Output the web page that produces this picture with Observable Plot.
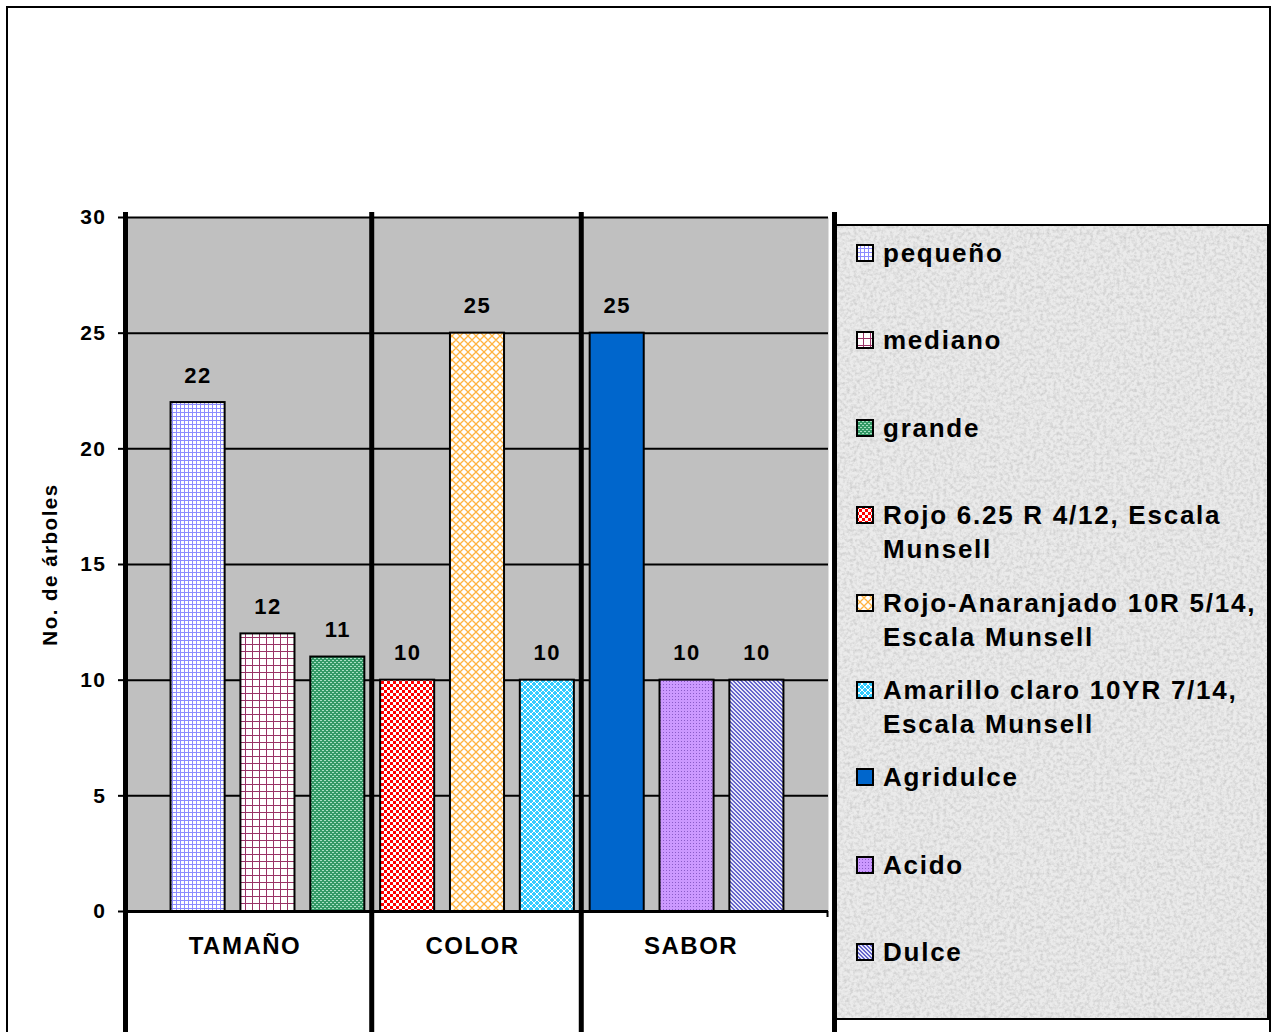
<!DOCTYPE html>
<html>
<head>
<meta charset="utf-8">
<script src="https://cdn.jsdelivr.net/npm/d3@7"></script>
<script src="https://cdn.jsdelivr.net/npm/@observablehq/plot@0.6"></script>
<style>
  html, body { margin: 0; padding: 0; background: #fff; }
  #page { position: relative; width: 1272px; height: 1032px; overflow: hidden; background: #fff;
          font-family: "Liberation Sans", Arial, sans-serif; }
  #outer { position: absolute; left: 6px; top: 6px; width: 1265px; height: 1100px; border: 2px solid #000; box-sizing: border-box; }
  #chart { position: absolute; left: 0; top: 0; }
  #chart svg text { letter-spacing: 1.5px; }
  #vline { position: absolute; left: 832px; top: 212px; width: 5px; height: 820px; background: #000; }
  #legend { position: absolute; left: 837px; top: 224px; width: 432px; height: 796px; box-sizing: border-box;
            border-top: 2px solid #000; border-right: 2px solid #000; border-bottom: 2px solid #000;
            background-color: #ebebeb;
            background-image: url("data:image/svg+xml,%3Csvg xmlns='http://www.w3.org/2000/svg' width='320' height='320'%3E%3Cfilter id='n'%3E%3CfeTurbulence type='fractalNoise' baseFrequency='0.3' numOctaves='3' seed='5'/%3E%3CfeColorMatrix values='0 0 0 0 0.5 0 0 0 0 0.5 0 0 0 0 0.5 1.3 0 0 0 -0.5'/%3E%3C/filter%3E%3Crect width='100%25' height='100%25' filter='url(%23n)'/%3E%3C/svg%3E"); }
  .item { position: relative; height: 87.4px; box-sizing: border-box; padding-top: 10px; }
  .item svg { position: absolute; left: 19px; top: 18px; }
  .item .lab { margin-left: 46px; width: 390px; font-weight: bold; font-size: 26px; line-height: 34px;
               letter-spacing: 1.75px; color: #000; }
</style>
</head>
<body>
<svg width="0" height="0" style="position:absolute">
  <defs>
    <pattern id="p0" width="4" height="4" patternUnits="userSpaceOnUse">
      <rect width="4" height="4" fill="#ffffff"/><rect width="4" height="1" fill="#8c8cff"/><rect width="1" height="4" fill="#8c8cff"/>
    </pattern>
    <pattern id="p1" width="7" height="7" patternUnits="userSpaceOnUse">
      <rect width="7" height="7" fill="#ffffff"/><rect width="7" height="1" fill="#993366"/><rect width="1" height="7" fill="#993366"/>
    </pattern>
    <pattern id="p2" width="4" height="4" patternUnits="userSpaceOnUse">
      <rect width="4" height="4" fill="#339966"/><rect x="0" y="0" width="2" height="1" fill="#a8e0c4"/><rect x="2" y="2" width="2" height="1" fill="#a8e0c4"/>
    </pattern>
    <pattern id="p3" width="6" height="6" patternUnits="userSpaceOnUse">
      <rect width="6" height="6" fill="#ffffff"/><rect width="3" height="3" fill="#ff0000"/><rect x="3" y="3" width="3" height="3" fill="#ff0000"/>
    </pattern>
    <pattern id="p4" width="8" height="8" patternUnits="userSpaceOnUse">
      <rect width="8" height="8" fill="#ffffff"/><path d="M0,4 L4,0 L8,4 L4,8 Z" fill="none" stroke="#ffb340" stroke-width="1.3"/>
    </pattern>
    <pattern id="p5" width="6" height="6" patternUnits="userSpaceOnUse">
      <rect width="6" height="6" fill="#33ccff"/><path d="M0,3 L3,0 L6,3 L3,6 Z" fill="none" stroke="#ffffff" stroke-width="1"/>
    </pattern>
    <pattern id="p6" width="4" height="4" patternUnits="userSpaceOnUse">
      <rect width="4" height="4" fill="#0066cc"/>
    </pattern>
    <pattern id="p7" width="3" height="3" patternUnits="userSpaceOnUse">
      <rect width="3" height="3" fill="#cc99ff"/><rect width="1" height="1" fill="#8a5cc8"/>
    </pattern>
    <pattern id="p8" width="4" height="4" patternUnits="userSpaceOnUse">
      <rect width="4" height="4" fill="#e8e8f8"/>
      <rect x="0" y="0" width="2" height="1" fill="#6666cc"/><rect x="1" y="1" width="2" height="1" fill="#6666cc"/>
      <rect x="2" y="2" width="2" height="1" fill="#6666cc"/><rect x="3" y="3" width="1" height="1" fill="#6666cc"/><rect x="0" y="3" width="1" height="1" fill="#6666cc"/>
    </pattern>
  </defs>
</svg>
<div id="page">
  <div id="outer"></div>
  <div id="chart"></div>
  <div id="vline"></div>
  <div id="legend"></div>
</div>
<script>
// ---- data ----
const series = [
  "pequeño", "mediano", "grande",
  "Rojo 6.25 R 4/12, Escala Munsell",
  "Rojo-Anaranjado 10R 5/14, Escala Munsell",
  "Amarillo claro 10YR 7/14, Escala Munsell",
  "Agridulce", "Acido", "Dulce"
];
const values = [22, 12, 11, 10, 25, 10, 25, 10, 10];
const groups = ["TAMAÑO", "COLOR", "SABOR"];
const groupOf = [0, 0, 0, 1, 1, 1, 2, 2, 2];
const yTicks = [0, 5, 10, 15, 20, 25, 30];
const yLabel = "No. de árboles";

// ---- table ----
const table = series.map((s, i) => ({serie: s, value: values[i], group: groups[groupOf[i]], idx: i}));
const groupRows = groups.map((g, k) => ({group: g, serie: series[groupOf.indexOf(k) + 1]}));

const W = 840, H = 1032, mL = 126, mR = 12, mT = 217, mB = 121;
const pIn = 0.226, pOut = 0.638;
const step = (W - mL - mR) / (series.length - pIn + 2 * pOut);
const bw = step * (1 - pIn);
const groupDx = [-23, -5, 4];

const chart = Plot.plot({
  width: W, height: H,
  marginLeft: mL, marginRight: mR, marginTop: mT, marginBottom: mB,
  style: {fontFamily: "'Liberation Sans', Arial, sans-serif", fontWeight: "bold", color: "#000", background: "transparent", overflow: "visible"},
  x: {type: "band", domain: series, paddingInner: pIn, paddingOuter: pOut, align: 0.5, round: false, axis: null},
  y: {domain: [0, 30], axis: null},
  color: {type: "identity"},
  marks: [
    Plot.frame({fill: "#c0c0c0", stroke: "none"}),
    Plot.gridY(yTicks.filter(t => t > 0), {stroke: "#000", strokeOpacity: 1, strokeWidth: 2}),
    Plot.barY(table, {x: "serie", y: "value", fill: d => `url(#p${d.idx})`, stroke: "#000", strokeWidth: 2}),
    Plot.ruleY([0], {stroke: "#000", strokeWidth: 3}),
    Plot.axisY(yTicks, {tickSize: 8, tickPadding: 12, fontSize: 21, strokeWidth: 2, label: null}),
    // left axis line
    Plot.ruleX([series[0]], {stroke: "#000", strokeWidth: 5, dx: -(bw / 2 + step * pOut) - 1, insetTop: -5, insetBottom: -mB}),
    // group separators
    Plot.ruleX([series[3], series[6]], {stroke: "#000", strokeWidth: 5, dx: -(bw / 2 + step * pIn / 2) - 1, insetTop: -5, insetBottom: -mB}),
    // small tick at the right end of the category axis
    Plot.ruleX([series[8]], {stroke: "#000", strokeWidth: 2, dx: bw / 2 + step * pOut - 1, y1: 0, dy: 0, insetBottom: -6, insetTop: 0, y2: 0}),
    Plot.text(table, {x: "serie", y: "value", text: d => String(d.value), dy: -27, fontSize: 22}),
    ...groupRows.map((g, k) => Plot.text([g], {x: "serie", frameAnchor: "bottom", text: "group", dy: 42, dx: groupDx[k], fontSize: 24})),
    Plot.text([yLabel], {frameAnchor: "left", text: d => d, rotate: -90, textAnchor: "middle", dx: -76, fontSize: 20.5})
  ]
});
document.getElementById("chart").appendChild(chart);

// ---- legend ----
const legend = d3.select("#legend");
series.forEach((s, i) => {
  const it = legend.append("div").attr("class", "item");
  const sw = it.append("svg").attr("width", 18).attr("height", 18);
  sw.append("rect").attr("x", 1).attr("y", 1).attr("width", 16).attr("height", 16)
    .attr("fill", `url(#p${i})`).attr("stroke", "#000").attr("stroke-width", 2);
  it.append("div").attr("class", "lab").text(s);
});
</script>
</body>
</html>
